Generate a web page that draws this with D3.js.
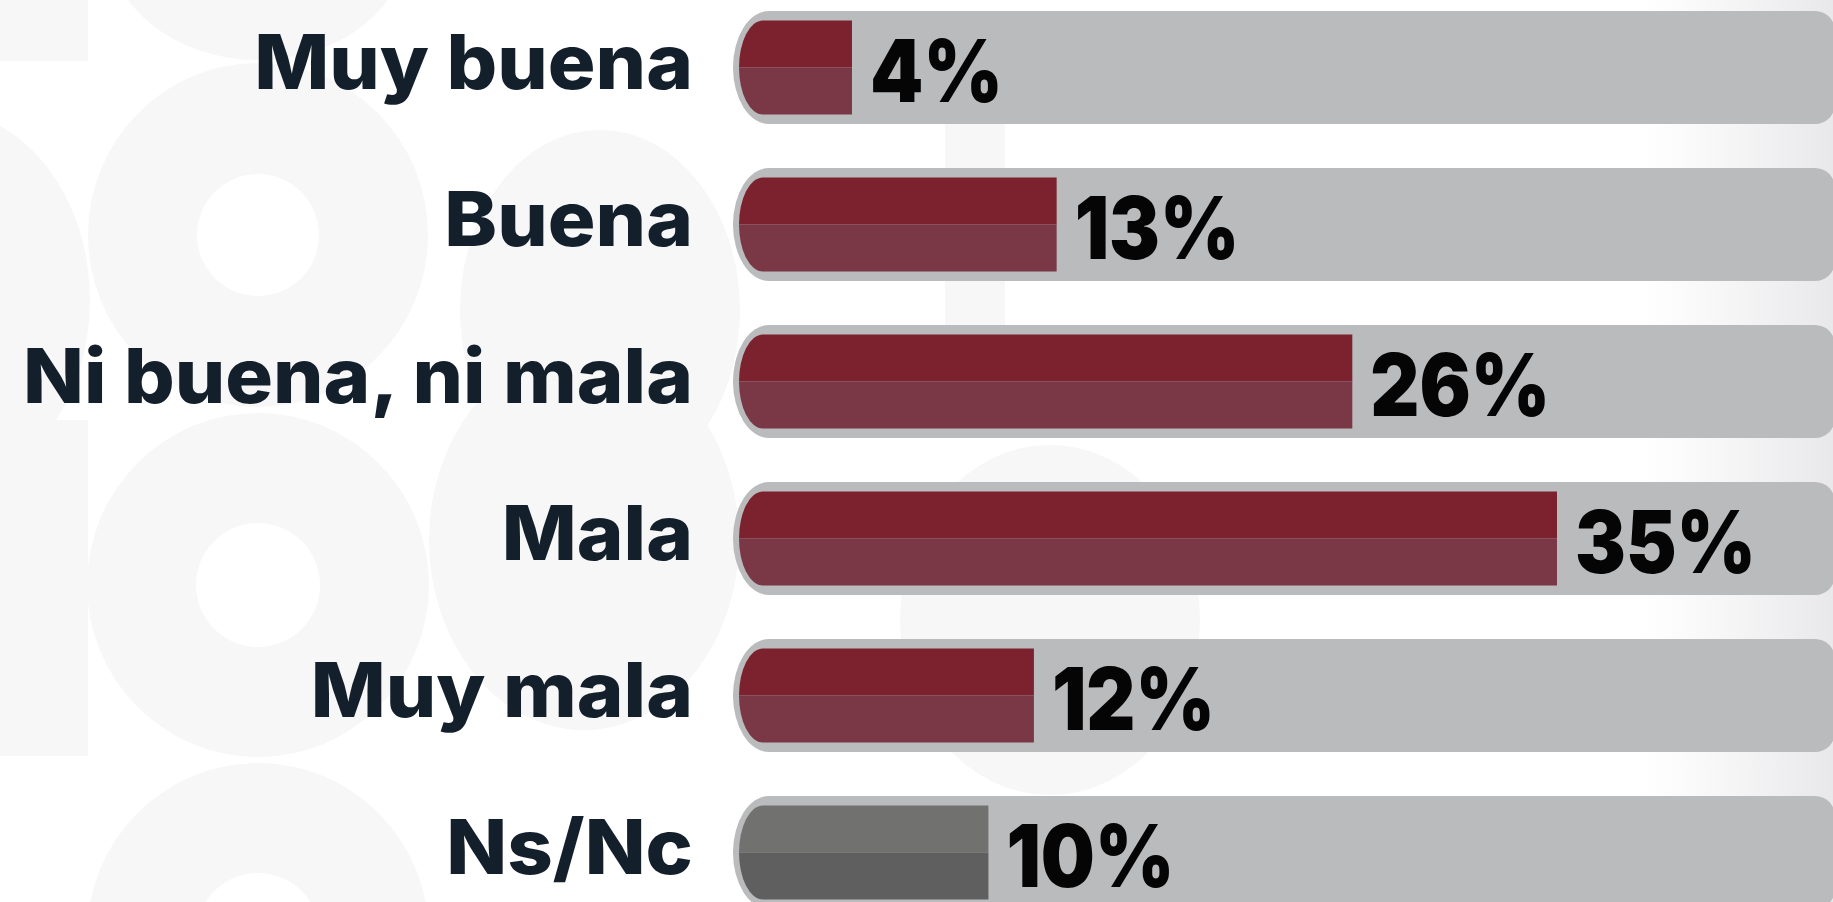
<!DOCTYPE html>
<html>
<head>
<meta charset="utf-8">
<script src="https://cdn.jsdelivr.net/npm/d3@7"></script>
<style>
  html, body { margin: 0; padding: 0; background: #ffffff; overflow: hidden; }
  #chart { display: block; }
  .cat-label { font-family: Inter, "Noto Sans", sans-serif; font-weight: 800; fill: #131f2b; }
  .pct-label { font-family: Inter, "Noto Sans", sans-serif; font-weight: 900; fill: #050505; }
</style>
</head>
<body>
<svg id="chart"></svg>
<script>
// data
const categories = ["Muy buena", "Buena", "Ni buena, ni mala", "Mala", "Muy mala", "Ns/Nc"];
const values = [4, 13, 26, 35, 12, 10];
const valueLabels = ["4%", "13%", "26%", "35%", "12%", "10%"];
const barColorsTop = ["#7c222e", "#7c222e", "#7c222e", "#7c222e", "#7c222e", "#71716f"];
const barColorsBottom = ["#7a3746", "#7a3746", "#7a3746", "#7a3746", "#7a3746", "#5f5f5f"];

const width = 1833, height = 902;
const svg = d3.select("#chart").attr("width", width).attr("height", height);

// background pattern (faint giant letters)
const bg = svg.append("g").attr("class", "bg").attr("fill", "#f7f7f7");
const defs = svg.append("defs");
const grad = defs.append("linearGradient").attr("id", "rightFade")
    .attr("x1", "0").attr("x2", "1").attr("y1", "0").attr("y2", "0");
grad.append("stop").attr("offset", "0").attr("stop-color", "#ededef").attr("stop-opacity", 0);
grad.append("stop").attr("offset", "1").attr("stop-color", "#e8e8ea").attr("stop-opacity", 1);

function ring(cx, cy, rx, ry, hr) {
    // ellipse with a round hole, evenodd
    return `M${cx - rx},${cy} a${rx},${ry} 0 1,0 ${2 * rx},0 a${rx},${ry} 0 1,0 ${-2 * rx},0 Z ` +
        `M${cx - hr},${cy} a${hr},${hr} 0 1,0 ${2 * hr},0 a${hr},${hr} 0 1,0 ${-2 * hr},0 Z`;
}
bg.append("rect").attr("x", 0).attr("y", 0).attr("width", 88).attr("height", 61);
bg.append("path").attr("fill-rule", "evenodd").attr("d", ring(258, -60, 150, 120, 0.1));
bg.append("path").attr("fill-rule", "evenodd").attr("d", ring(258, 235, 170, 172, 61));
bg.append("path").attr("fill-rule", "evenodd").attr("d", ring(-60, 300, 150, 190, 0.1));
bg.append("path").attr("fill-rule", "evenodd").attr("d", ring(258, 585, 171, 172, 62));
bg.append("rect").attr("x", 0).attr("y", 420).attr("width", 88).attr("height", 336);
bg.append("path").attr("fill-rule", "evenodd").attr("d", ring(584, 540, 155, 190, 0.1));
bg.append("path").attr("fill-rule", "evenodd").attr("d", ring(258, 935, 171, 172, 62));
bg.append("path").attr("fill-rule", "evenodd").attr("d", ring(600, 310, 140, 180, 0.1));
bg.append("path").attr("fill-rule", "evenodd").attr("d", ring(1050, 620, 150, 175, 0.1));
bg.append("rect").attr("x", 945).attr("y", 120).attr("width", 60).attr("height", 300);
svg.append("rect").attr("x", 1640).attr("y", 0).attr("width", 193).attr("height", height)
    .attr("fill", "url(#rightFade)");

// scales
const y = d3.scalePoint().domain(categories).range([67.5, 852.5]);
const barStart = 739;
const x = d3.scaleLinear().domain([0, 35]).range([761, 1557]);

const trackLeft = 733, trackRight = 1835, trackHalf = 56.5;
const barHalf = 47;
const labelRight = 693;

function trackPath(cy) {
    const t = cy - trackHalf, b = cy + trackHalf, rx = 36, rr = 20;
    return `M${trackLeft + rx},${t} H${trackRight - rr} A${rr},${rr} 0 0,1 ${trackRight},${t + rr} ` +
        `V${b - rr} A${rr},${rr} 0 0,1 ${trackRight - rr},${b} H${trackLeft + rx} ` +
        `A${rx},${trackHalf} 0 0,1 ${trackLeft},${cy} A${rx},${trackHalf} 0 0,1 ${trackLeft + rx},${t} Z`;
}
function barHalfPath(cy, xEnd, top) {
    const rx = 24;
    if (top) {
        return `M${barStart},${cy} A${rx},${barHalf} 0 0,1 ${barStart + rx},${cy - barHalf} H${xEnd} V${cy} Z`;
    }
    return `M${barStart},${cy} A${rx},${barHalf} 0 0,0 ${barStart + rx},${cy + barHalf} H${xEnd} V${cy} Z`;
}

const rows = svg.selectAll(".row").data(categories)
    .join("g")
    .attr("class", "row");

rows.append("path")
    .attr("class", "track")
    .attr("d", d => trackPath(y(d)))
    .attr("fill", "#babbbd");

rows.append("path")
    .attr("class", "bar-top")
    .attr("d", (d, i) => barHalfPath(y(d), x(values[i]), true))
    .attr("fill", (d, i) => barColorsTop[i]);
rows.append("path")
    .attr("class", "bar-bottom")
    .attr("d", (d, i) => barHalfPath(y(d), x(values[i]), false))
    .attr("fill", (d, i) => barColorsBottom[i]);

const catText = rows.append("text")
    .attr("class", "cat-label")
    .attr("x", labelRight)
    .attr("y", d => y(d) + 21)
    .attr("text-anchor", "end")
    .style("font-size", "76px")
    .text(d => d);

const pctText = rows.append("text")
    .attr("class", "pct-label")
    .attr("x", (d, i) => x(values[i]) + 18)
    .attr("y", d => y(d) + 34)
    .style("font-size", "86px")
    .text((d, i) => valueLabels[i]);

// squeeze text widths to match the reference typefaces
const longest = catText.filter(d => d === "Ni buena, ni mala").node().getComputedTextLength();
const catFactor = 670 / longest;
catText.each(function() {
    const w = this.getComputedTextLength();
    d3.select(this).attr("textLength", w * catFactor).attr("lengthAdjust", "spacingAndGlyphs");
});
const ref = pctText.filter((d, i) => i === 3).node().getComputedTextLength();
const pctFactor = 181 / ref;
pctText.each(function() {
    const w = this.getComputedTextLength();
    d3.select(this).attr("textLength", w * pctFactor).attr("lengthAdjust", "spacingAndGlyphs");
});
</script>
</body>
</html>
